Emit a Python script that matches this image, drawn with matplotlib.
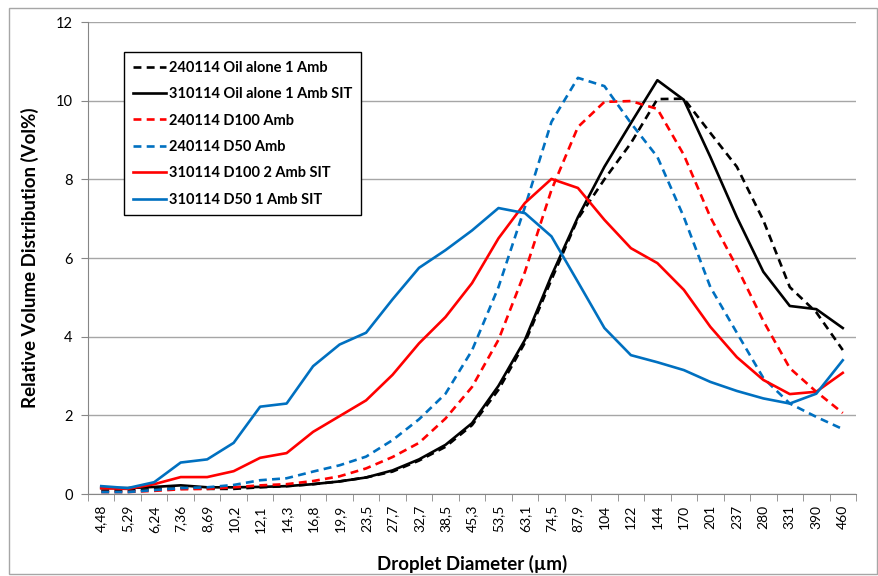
import matplotlib.pyplot as plt
import numpy as np
from matplotlib.patches import Rectangle

plt.rcParams['font.family'] = ['Lato', 'DejaVu Sans']

diameters = ['4,48', '5,29', '6,24', '7,36', '8,69', '10,2', '12,1', '14,3', '16,8',
             '19,9', '23,5', '27,7', '32,7', '38,5', '45,3', '53,5', '63,1', '74,5',
             '87,9', '104', '122', '144', '170', '201', '237', '280', '331', '390', '460']

oil_amb = [0.08, 0.10, 0.12, 0.15, 0.13, 0.13, 0.17, 0.20, 0.25, 0.32, 0.42, 0.57,
           0.85, 1.20, 1.75, 2.65, 3.85, 5.45, 7.00, 8.00, 8.92, 10.04, 10.05, 9.18,
           8.32, 6.96, 5.26, 4.62, 3.66]
oil_sit = [0.15, 0.15, 0.18, 0.22, 0.17, 0.17, 0.18, 0.20, 0.25, 0.32, 0.42, 0.60,
           0.88, 1.25, 1.80, 2.75, 3.92, 5.55, 7.04, 8.32, 9.43, 10.52, 10.02, 8.57,
           7.04, 5.65, 4.78, 4.70, 4.22]
d100_amb = [0.05, 0.05, 0.08, 0.12, 0.13, 0.17, 0.22, 0.25, 0.33, 0.45, 0.65, 0.94,
            1.30, 1.92, 2.72, 3.92, 5.65, 7.73, 9.33, 9.97, 9.99, 9.79, 8.62, 7.04,
            5.77, 4.40, 3.20, 2.60, 2.06]
d50_amb = [0.05, 0.05, 0.10, 0.15, 0.17, 0.23, 0.35, 0.40, 0.57, 0.73, 0.95, 1.37,
           1.90, 2.55, 3.65, 5.26, 7.30, 9.46, 10.58, 10.37, 9.43, 8.57, 7.04, 5.26,
           4.10, 2.95, 2.30, 1.96, 1.65]
d100_sit = [0.15, 0.13, 0.25, 0.43, 0.43, 0.58, 0.92, 1.04, 1.58, 1.98, 2.38, 3.03,
            3.83, 4.50, 5.36, 6.50, 7.40, 8.01, 7.78, 6.97, 6.25, 5.87, 5.19, 4.25,
            3.48, 2.90, 2.54, 2.60, 3.08]
d50_sit = [0.20, 0.15, 0.30, 0.80, 0.88, 1.30, 2.22, 2.30, 3.25, 3.80, 4.10, 4.95,
           5.75, 6.20, 6.70, 7.27, 7.14, 6.55, 5.39, 4.22, 3.53, 3.35, 3.15, 2.85,
           2.62, 2.43, 2.30, 2.55, 3.40]

series = [
    ('240114 Oil alone 1 Amb', oil_amb, 'black', '--'),
    ('310114 Oil alone 1 Amb SIT', oil_sit, 'black', '-'),
    ('240114 D100 Amb', d100_amb, '#FF0000', '--'),
    ('240114 D50 Amb', d50_amb, '#0070C0', '--'),
    ('310114 D100 2 Amb SIT', d100_sit, '#FF0000', '-'),
    ('310114 D50 1 Amb SIT', d50_sit, '#0070C0', '-'),
]

fig = plt.figure(figsize=(8.79, 5.76), dpi=100)
ax = fig.add_axes([88 / 879, 1 - 494 / 576, 768 / 879, 472 / 576])

x = np.arange(len(diameters))
for label, vals, color, ls in series:
    if ls == '--':
        ax.plot(x, vals, color=color, lw=1.9, linestyle=(0, (3, 2)), label=label)
    else:
        ax.plot(x, vals, color=color, lw=1.9, label=label)

ax.set_xlim(-0.5, len(diameters) - 0.5)
ax.set_ylim(0, 12)
ax.set_yticks(np.arange(0, 13, 2))
ax.yaxis.grid(True, color='#A6A6A6', lw=1)
ax.set_axisbelow(True)

ax.set_xticks(x)
ax.set_xticklabels(diameters, rotation=90, fontsize=10)
ax.set_xticks(np.arange(-0.5, len(diameters), 1), minor=True)
ax.tick_params(axis='x', which='major', length=0, pad=8)
ax.tick_params(axis='x', which='minor', length=5, color='#868686', direction='out')
ax.tick_params(axis='y', length=5, color='#868686', labelsize=10.5, pad=6)

for s in ['top', 'right']:
    ax.spines[s].set_visible(False)
for s in ['left', 'bottom']:
    ax.spines[s].set_color('#868686')

ax.set_ylabel('Relative Volume Distribution (Vol%)', fontsize=13.5, fontweight='bold', labelpad=12)
ax.set_xlabel('Droplet Diameter (µm)', fontsize=13.5, fontweight='bold', labelpad=16)

leg = ax.legend(loc='upper left', bbox_to_anchor=(36 / 768, 1 - 30 / 472), borderaxespad=0,
                fancybox=False, edgecolor='black', framealpha=1, handlelength=2.3,
                labelspacing=0.85, prop={'weight': 'bold', 'size': 10.5},
                handletextpad=0.2, borderpad=0.6)
leg.get_frame().set_linewidth(1)

fig.patches.append(Rectangle((9 / 879, 2 / 576), 868 / 879, 566 / 576, transform=fig.transFigure,
                             fill=False, edgecolor='#A6A6A6', lw=1))

fig.savefig('out.png', dpi=100)
